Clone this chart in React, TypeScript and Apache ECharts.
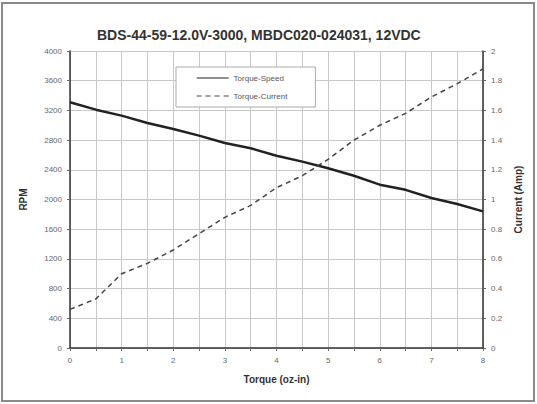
import React, { useEffect, useRef } from "react";
import * as echarts from "echarts";

const torque = [0, 0.5, 1, 1.5, 2, 2.5, 3, 3.5, 4, 4.5, 5, 5.5, 6, 6.5, 7, 7.5, 8];
const speedRpm = [3310, 3210, 3130, 3030, 2950, 2860, 2760, 2690, 2590, 2510, 2420, 2320, 2200, 2130, 2020, 1940, 1840];
const currentAmp = [0.26, 0.33, 0.5, 0.57, 0.66, 0.77, 0.88, 0.96, 1.08, 1.16, 1.27, 1.4, 1.5, 1.58, 1.69, 1.78, 1.88];

const titleText = "BDS-44-59-12.0V-3000, MBDC020-024031, 12VDC";
const seriesNames = ["Torque-Speed", "Torque-Current"];

export default function App() {
  const ref = useRef<HTMLDivElement>(null);
  useEffect(() => {
    if (!ref.current) return;
    const chart = echarts.init(ref.current, null, { renderer: "svg" });
    const font = "Liberation Sans, Arial, sans-serif";
    const labelStyle = { color: "#666", fontSize: 8, fontFamily: font };
    const nameStyle = { color: "#333", fontSize: 10, fontWeight: "bold" as const, fontFamily: font };
    chart.setOption({
      animation: false,
      backgroundColor: "#fff",
      title: {
        text: titleText,
        left: 92,
        top: 23,
        textStyle: { fontSize: 14, fontWeight: "bold", color: "#333", fontFamily: font },
      },
      graphic: [
        {
          type: "rect",
          shape: { x: 2, y: 3, width: 532, height: 398 },
          style: { fill: "none", stroke: "#8a8a8a", lineWidth: 2 },
          silent: true,
        },
      ],
      legend: {
        orient: "vertical",
        left: 176,
        top: 67,
        itemWidth: 32,
        itemHeight: 8,
        itemGap: 10,
        padding: [7, 28, 7, 20],
        borderColor: "#aaa",
        borderWidth: 1,
        backgroundColor: "#fff",
        itemStyle: { opacity: 0 },
        lineStyle: { width: 1.2 },
        textStyle: { color: "#555", fontSize: 8, fontFamily: font },
        data: seriesNames,
      },
      grid: { left: 70, right: 54, top: 51, bottom: 56 },
      xAxis: {
        type: "value",
        min: 0,
        max: 8,
        interval: 0.5,
        name: "Torque (oz-in)",
        nameLocation: "middle",
        nameGap: 26,
        nameTextStyle: nameStyle,
        axisLine: { show: true, lineStyle: { color: "#333", width: 1.5 } },
        axisTick: { show: true, length: 3, lineStyle: { color: "#666" } },
        axisLabel: {
          ...labelStyle,
          margin: 8,
          formatter: (v: number) => (Number.isInteger(v) ? String(v) : ""),
        },
        splitLine: { show: true, lineStyle: { color: "#c8c8c8", width: 1 } },
      },
      yAxis: [
        {
          type: "value",
          min: 0,
          max: 4000,
          interval: 400,
          name: "RPM",
          nameLocation: "middle",
          nameGap: 42,
          nameTextStyle: nameStyle,
          axisLine: { show: true, lineStyle: { color: "#333", width: 1.5 } },
          axisTick: { show: true, length: 3, lineStyle: { color: "#666" } },
          axisLabel: { ...labelStyle, margin: 8, formatter: (v: number) => String(v) },
          splitLine: { show: true, lineStyle: { color: "#c8c8c8", width: 1 } },
        },
        {
          type: "value",
          min: 0,
          max: 2,
          interval: 0.2,
          name: "Current (Amp)",
          nameLocation: "middle",
          nameGap: 24,
          nameTextStyle: nameStyle,
          axisLine: { show: true, lineStyle: { color: "#333", width: 1.5 } },
          axisTick: { show: true, length: 3, lineStyle: { color: "#666" } },
          axisLabel: {
            ...labelStyle,
            margin: 8,
            formatter: (v: number) => String(Number(v.toFixed(1))),
          },
          splitLine: { show: false },
        },
      ],
      series: [
        {
          name: seriesNames[0],
          type: "line",
          yAxisIndex: 0,
          data: torque.map((t, i) => [t, speedRpm[i]]),
          symbol: "none",
          lineStyle: { color: "#222", width: 2.5, type: "solid" },
          itemStyle: { color: "#222" },
        },
        {
          name: seriesNames[1],
          type: "line",
          yAxisIndex: 1,
          data: torque.map((t, i) => [t, currentAmp[i]]),
          symbol: "none",
          lineStyle: { color: "#444", width: 1.5, type: [5, 4] },
          itemStyle: { color: "#444" },
        },
      ],
    });
    return () => chart.dispose();
  }, []);
  return <div ref={ref} style={{ width: 537, height: 404, position: "absolute", left: 0, top: 0 }} />;
}
